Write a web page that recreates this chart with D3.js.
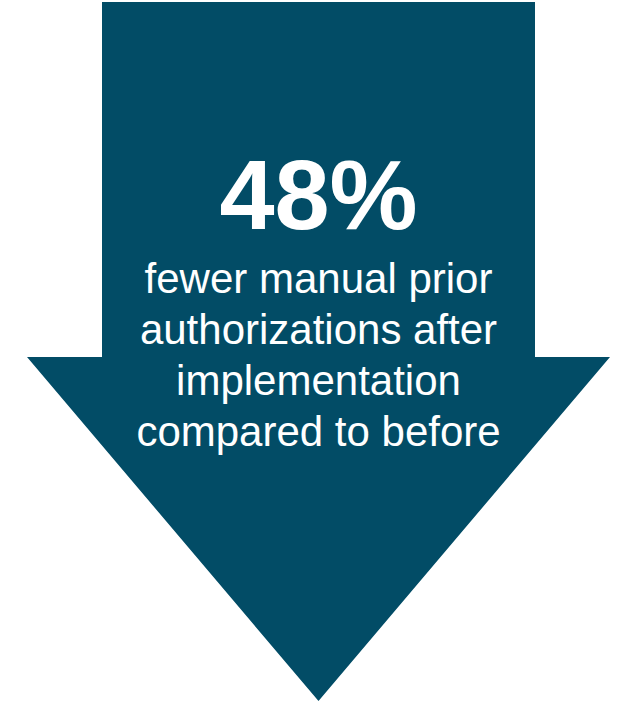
<!DOCTYPE html>
<html>
<head>
<meta charset="utf-8">
<script src="https://cdn.jsdelivr.net/npm/d3@7"></script>
<style>
  html, body { margin: 0; padding: 0; background: #ffffff; }
  svg { display: block; }
</style>
</head>
<body>
<div id="chart"></div>
<script>
// the figure shown in the arrow
const headline = [48];
const headlineUnit = ["%"];
const captionLines = [
    "fewer manual prior",
    "authorizations after",
    "implementation",
    "compared to before"
];

const width = 621;
const height = 702;
const arrowColor = "#024c66";

let svg = d3.select("#chart")
    .append("svg")
    .attr("width", width)
    .attr("height", height);

// arrow geometry (pixels)
const shaft = {left: 102, right: 535, top: 2, bottom: 357};
const head = {left: 27, right: 610, tip: 701};
const cx = (shaft.left + shaft.right) / 2;

let arrowPts = [
    [shaft.left, shaft.top],
    [shaft.right, shaft.top],
    [shaft.right, shaft.bottom],
    [head.right, shaft.bottom],
    [cx, head.tip],
    [head.left, shaft.bottom],
    [shaft.left, shaft.bottom]
];

svg.append("path")
    .attr("d", d3.line()(arrowPts) + "Z")
    .attr("fill", arrowColor);

// big number
svg.selectAll(".headline")
    .data(headline)
    .join("text")
    .attr("class", "headline")
    .attr("x", cx)
    .attr("y", 229)
    .attr("text-anchor", "middle")
    .attr("font-family", "'Liberation Sans', Arial, sans-serif")
    .attr("font-weight", "bold")
    .attr("font-size", 99)
    .attr("fill", "#ffffff")
    .text((d, i) => d + headlineUnit[i]);

// caption lines
let lineY = d3.scaleLinear()
    .domain([0, captionLines.length - 1])
    .range([293, 446]);

svg.selectAll(".caption")
    .data(captionLines)
    .join("text")
    .attr("class", "caption")
    .attr("x", cx)
    .attr("y", (d, i) => lineY(i))
    .attr("text-anchor", "middle")
    .attr("font-family", "'Liberation Sans', Arial, sans-serif")
    .attr("font-size", 42)
    .attr("fill", "#ffffff")
    .text(d => d);
</script>
</body>
</html>
